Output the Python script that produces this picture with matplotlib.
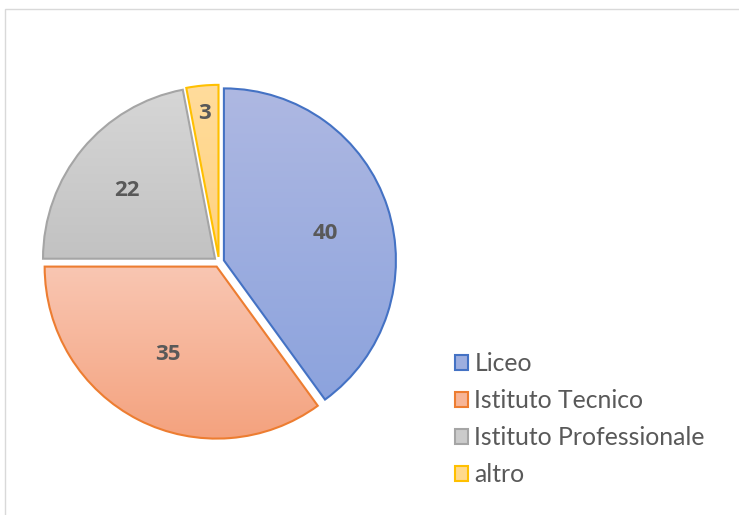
import matplotlib
matplotlib.use("Agg")
import matplotlib.pyplot as plt
import numpy as np
from matplotlib.patches import Patch, Rectangle
from matplotlib.colors import LinearSegmentedColormap

categories = ["Liceo", "Istituto Tecnico", "Istituto Professionale", "altro"]
values = [40, 35, 22, 3]
top_colors = ["#AEB8E2", "#F9C6B2", "#D6D6D6", "#FFDC9C"]
bottom_colors = ["#8CA3DD", "#F4A27E", "#C2C2C2", "#FFD27F"]
edge_colors = ["#4472C4", "#ED7D31", "#A5A5A5", "#FFC000"]
legend_colors = ["#9DAEDF", "#F7B597", "#CBCBCB", "#FFD98C"]
label_dist = [0.61, 0.585, 0.65, 0.84]
label_angle_shift = [-3, -2, 2, 0]

plt.rcParams['font.family'] = ['Lato', 'DejaVu Sans']

W, H = 739, 515
fig = plt.figure(figsize=(W / 100, H / 100), dpi=100)

# chart border
fig.add_artist(Rectangle((5 / W, -0.1), 2.0, 1 - 9 / H + 0.1, transform=fig.transFigure,
                         fill=False, edgecolor="#D9D9D9", linewidth=1.0))

cx, cy, r = 219, 262, 172
lim = 1.2
half = lim * r
ax = fig.add_axes([(cx - half) / W, (H - cy - half) / H, 2 * half / W, 2 * half / H])
ax.axis("off")

wedges, _ = ax.pie(values, startangle=90, counterclock=False,
                   explode=[0.03] * len(values), radius=1.0,
                   wedgeprops=dict(linewidth=1.5, joinstyle="miter"))
ax.set_xlim(-lim, lim)
ax.set_ylim(-lim, lim)

grad = np.linspace(1, 0, 256).reshape(-1, 1)
for w, tc, bc, ec, v, d, sh in zip(wedges, top_colors, bottom_colors, edge_colors,
                                   values, label_dist, label_angle_shift):
    w.set_facecolor("none")
    w.set_edgecolor(ec)
    w.set_zorder(3)
    ext = w.get_path().get_extents()
    cmap = LinearSegmentedColormap.from_list("g", [bc, tc])
    im = ax.imshow(grad, cmap=cmap, extent=[ext.x0, ext.x1, ext.y0, ext.y1],
                   aspect="auto", origin="upper", zorder=2, interpolation="bilinear")
    im.set_clip_path(w)
    th = np.deg2rad((w.theta1 + w.theta2) / 2 + sh)
    x0, y0 = w.center
    ax.text(x0 + d * w.r * np.cos(th), y0 + d * w.r * np.sin(th), str(v),
            ha="center", va="center", fontsize=16, fontweight="bold", color="#595959",
            family=["Open Sans", "DejaVu Sans"], zorder=5)
ax.set_xlim(-lim, lim)
ax.set_ylim(-lim, lim)

handles = [Patch(facecolor=fc, edgecolor=ec, linewidth=1.5) for fc, ec in zip(legend_colors, edge_colors)]
fig.legend(handles, categories, loc="upper left", bbox_to_anchor=(455 / W, 1 - 352 / H),
           frameon=False, fontsize=17.8, handlelength=0.53, handleheight=0.53,
           handletextpad=0.25, labelspacing=0.57, labelcolor="#595959", borderaxespad=0,
           borderpad=0)

fig.savefig("out.png", dpi=100, facecolor="white")
